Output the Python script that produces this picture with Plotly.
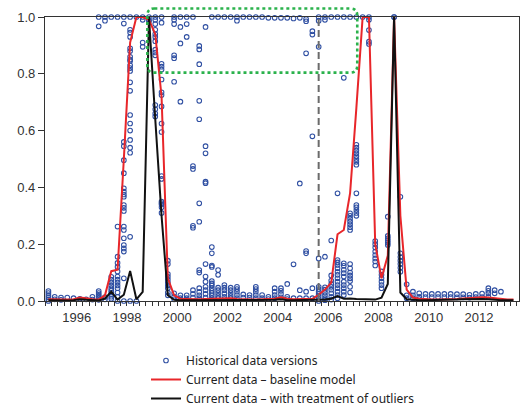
import pandas as pd
import plotly.graph_objects as go

# ---------------- data ----------------
quarters = [str(p) for p in pd.period_range("1994Q4", "2013Q2", freq="Q")]

baseline = [0.006, 0.005, 0.005, 0.005, 0.006, 0.012, 0.010, 0.006, 0.005, 0.02,
            0.105, 0.11, 0.50, 0.91, 1.0, 1.0, 0.99, 0.94, 0.72, 0.08,
            0.02, 0.008, 0.007, 0.006, 0.006, 0.007, 0.008, 0.007, 0.008, 0.010,
            0.007, 0.006, 0.005, 0.005, 0.006, 0.006, 0.008, 0.013, 0.008, 0.006,
            0.006, 0.007, 0.008, 0.022, 0.04, 0.065, 0.235, 0.25, 0.38, 0.68,
            1.0, 1.0, 0.2, 0.08, 0.16, 1.0, 0.3, 0.04, 0.012, 0.008,
            0.006, 0.005, 0.005, 0.005, 0.006, 0.007, 0.009, 0.011, 0.012, 0.013,
            0.012, 0.009, 0.006, 0.005, 0.005]

outliers = [0.003, 0.002, 0.002, 0.002, 0.003, 0.006, 0.004, 0.002, 0.002, 0.008,
            0.033, 0.005, 0.022, 0.106, 0.006, 0.032, 1.0, 0.64, 0.30, 0.02,
            0.004, 0.003, 0.003, 0.003, 0.003, 0.003, 0.004, 0.003, 0.003, 0.004,
            0.003, 0.003, 0.002, 0.002, 0.003, 0.003, 0.004, 0.006, 0.003, 0.003,
            0.003, 0.003, 0.003, 0.004, 0.005, 0.008, 0.017, 0.008, 0.009, 0.007,
            0.006, 0.005, 0.005, 0.012, 0.06, 1.0, 0.03, 0.006, 0.004, 0.003,
            0.003, 0.003, 0.003, 0.003, 0.004, 0.005, 0.006, 0.007, 0.008, 0.007,
            0.006, 0.004, 0.003, 0.003, 0.003]

hist_quarters = ["1994Q4", "1995Q1", "1995Q2", "1995Q3", "1995Q4", "1996Q1", "1996Q2", "1996Q3",
                 "1996Q4", "1997Q1", "1997Q2", "1997Q3", "1997Q4", "1998Q1", "1998Q2", "1998Q3",
                 "1998Q4", "1999Q1", "1999Q2", "1999Q3", "1999Q4", "2000Q1", "2000Q2", "2000Q3",
                 "2000Q4", "2001Q1", "2001Q2", "2001Q3", "2001Q4", "2002Q1", "2002Q2", "2002Q3",
                 "2002Q4", "2003Q1", "2003Q2", "2003Q3", "2003Q4", "2004Q1", "2004Q2", "2004Q3",
                 "2004Q4", "2005Q1", "2005Q2", "2005Q3", "2005Q4", "2006Q1", "2006Q2", "2006Q3",
                 "2006Q4", "2007Q1", "2007Q2", "2007Q3", "2007Q4", "2008Q1", "2008Q2", "2008Q3",
                 "2008Q4", "2009Q1", "2009Q2", "2009Q3", "2009Q4", "2010Q1", "2010Q2", "2010Q3",
                 "2010Q4", "2011Q1", "2011Q2", "2011Q3", "2011Q4", "2012Q1", "2012Q2", "2012Q3",
                 "2012Q4"]

hist_values = [
    [0.035, 0.028, 0.02, 0.013, 0.006, 0.0],
    [0.015, 0.006],
    [0.012, 0.004],
    [0.012],
    [0.01],
    [0.008],
    [0.006],
    [0.015, 0.005],
    [1.0, 0.967, 0.035, 0.028, 0.022, 0.016, 0.01, 0.004],
    [1.0, 0.987, 0.014, 0.006],
    [1.0, 0.085, 0.075, 0.065, 0.055, 0.045, 0.037, 0.03, 0.022, 0.015, 0.008],
    [1.0, 0.262, 0.156, 0.134, 0.12, 0.104, 0.086, 0.075, 0.065, 0.055, 0.045, 0.03, 0.015, 0.0],
    [1.0, 0.977, 0.56, 0.545, 0.496, 0.45, 0.397, 0.385, 0.375, 0.367, 0.338, 0.328, 0.317,
     0.262, 0.25, 0.221, 0.197, 0.185, 0.174, 0.08, 0.0],
    [1.0, 0.955, 0.945, 0.93, 0.89, 0.88, 0.86, 0.85, 0.845, 0.83, 0.82, 0.81, 0.77, 0.74,
     0.655, 0.625, 0.6, 0.567, 0.54, 0.522, 0.226, 0.0],
    [1.0, 0.0],
    [1.0, 0.99, 0.91, 0.895],
    [1.0, 0.99, 0.985],
    [1.0, 0.99, 0.975, 0.955, 0.94, 0.93, 0.915, 0.885, 0.875, 0.865, 0.69, 0.675, 0.66, 0.65],
    [1.0, 0.98, 0.835, 0.825, 0.815, 0.78, 0.735, 0.725, 0.685, 0.625, 0.595, 0.44, 0.43,
     0.35, 0.345, 0.34, 0.33, 0.31],
    [0.142, 0.13, 0.095, 0.085, 0.075, 0.065, 0.055, 0.045, 0.03, 0.02],
    [1.0, 0.99, 0.975, 0.865, 0.855, 0.772, 0.027, 0.015, 0.006],
    [1.0, 0.965, 0.907, 0.702, 0.02, 0.01],
    [1.0, 0.975, 0.93, 0.02, 0.01],
    [1.0, 0.475, 0.465, 0.265, 0.258, 0.038, 0.025, 0.012],
    [0.898, 0.886, 0.834, 0.705, 0.64, 0.344, 0.279, 0.109, 0.1, 0.045, 0.032, 0.02, 0.01],
    [0.965, 0.545, 0.52, 0.42, 0.415, 0.13, 0.086, 0.068, 0.05, 0.038, 0.025, 0.012],
    [1.0, 0.19, 0.168, 0.125, 0.12, 0.07, 0.062, 0.055, 0.045, 0.036, 0.028, 0.02, 0.01],
    [1.0, 0.109, 0.092, 0.047, 0.038, 0.028, 0.018, 0.01],
    [1.0, 0.056, 0.047, 0.038, 0.026, 0.015, 0.007],
    [1.0, 0.047, 0.038, 0.028, 0.018, 0.01],
    [1.0, 0.987, 0.05, 0.042, 0.033, 0.021, 0.01],
    [1.0, 0.023, 0.012],
    [1.0, 0.021, 0.012],
    [1.0, 0.05, 0.042, 0.033, 0.021, 0.01],
    [1.0, 0.021, 0.01],
    [0.997, 0.015, 0.007],
    [0.997, 0.045, 0.033, 0.021, 0.01],
    [0.997, 0.045, 0.036, 0.025, 0.013],
    [0.997, 0.06, 0.015, 0.007],
    [0.995, 0.129, 0.01],
    [0.997, 0.414, 0.038, 0.01],
    [0.993, 0.985, 0.872, 0.176, 0.168, 0.033, 0.01],
    [0.95, 0.938, 0.58, 0.045, 0.01],
    [1.0, 0.987, 0.895, 0.15, 0.05, 0.042, 0.033, 0.025, 0.017, 0.008, 0.0],
    [1.0, 0.99, 0.156, 0.048, 0.04, 0.03, 0.02, 0.01, 0.003],
    [1.0, 0.213, 0.09, 0.072, 0.06, 0.05, 0.04, 0.027, 0.015, 0.005],
    [1.0, 0.379, 0.144, 0.136, 0.127, 0.115, 0.103, 0.092, 0.08, 0.068, 0.056, 0.045, 0.033,
     0.021, 0.01],
    [1.0, 0.786, 0.133, 0.124, 0.11, 0.098, 0.086, 0.068, 0.056, 0.045, 0.033, 0.021],
    [1.0, 0.309, 0.3, 0.29, 0.28, 0.27, 0.26, 0.25, 0.13, 0.115, 0.1, 0.09, 0.08, 0.07,
     0.05, 0.03],
    [1.0, 0.55, 0.54, 0.53, 0.52, 0.51, 0.50, 0.49, 0.48, 0.379, 0.338, 0.33, 0.32, 0.31, 0.3],
    [1.0],
    [1.0, 0.99, 0.954, 0.913, 0.905],
    [0.211, 0.2, 0.188, 0.174, 0.162, 0.15, 0.139, 0.125],
    [0.104, 0.092, 0.08, 0.068, 0.056, 0.045],
    [0.297, 0.229, 0.221, 0.213, 0.205, 0.197],
    [1.0, 1.0],
    [0.367, 0.168, 0.155, 0.142, 0.13, 0.117, 0.103],
    [0.059, 0.02, 0.01],
    [0.033, 0.02, 0.01],
    [0.027, 0.015, 0.007],
    [0.025, 0.014],
    [0.025, 0.014],
    [0.025, 0.014],
    [0.025, 0.014],
    [0.025, 0.014],
    [0.024, 0.013],
    [0.024, 0.013],
    [0.022, 0.012],
    [0.025, 0.014],
    [0.026, 0.014],
    [0.045, 0.036, 0.027, 0.015],
    [0.038, 0.027],
    [0.033],
]

x_tick_years = [1996, 1998, 2000, 2002, 2004, 2006, 2008, 2010, 2012]
y_ticks = [0.0, 0.2, 0.4, 0.6, 0.8, 1.0]
vintage_quarter = "2005Q3"
legend_names = ["Historical data versions",
                "Current data \u2013 baseline model",
                "Current data \u2013 with treatment of outliers"]


def qpos(label):
    """Mid-quarter position in decimal years."""
    return int(label[:4]) + (int(label[-1]) - 1) / 4 + 0.125


x_all = [qpos(q) for q in quarters]
hx, hy = [], []
for q, vals in zip(hist_quarters, hist_values):
    for v in vals:
        hx.append(qpos(q))
        hy.append(v)

X0, X1 = 1994.739, 2013.594

fig = go.Figure()
fig.add_trace(go.Scatter(
    x=hx, y=hy, mode="markers", name=legend_names[0], cliponaxis=False,
    marker=dict(symbol="circle-open", size=4.6, color="#2f4fa2", line=dict(width=1.1))))
fig.add_trace(go.Scatter(
    x=x_all, y=baseline, mode="lines", name=legend_names[1], cliponaxis=False,
    line=dict(color="#e8262a", width=2)))
fig.add_trace(go.Scatter(
    x=x_all, y=outliers, mode="lines", name=legend_names[2], cliponaxis=False,
    line=dict(color="#111111", width=2)))

# vertical dashed line (vintage)
fig.add_shape(type="line", xref="x", yref="y", x0=qpos(vintage_quarter), x1=qpos(vintage_quarter),
              y0=0, y1=1, line=dict(color="#6b6b6b", width=2, dash="7px,4px"))

# green dotted rounded box (paper coordinates)
def xp(year):
    return (year - X0) / (X1 - X0)

L, R, T, B = xp(1998.81), xp(2007.16), 1.03, 0.804
rx, ry = 7 / 474, 7 / 284
path = (f"M {L+rx},{T} L {R-rx},{T} Q {R},{T} {R},{T-ry} L {R},{B+ry} Q {R},{B} {R-rx},{B} "
        f"L {L+rx},{B} Q {L},{B} {L},{B+ry} L {L},{T-ry} Q {L},{T} {L+rx},{T} Z")
fig.add_shape(type="path", xref="paper", yref="paper", path=path,
              line=dict(color="#2bb24c", width=2.6, dash="dot"))

axis_font = dict(family="Liberation Sans, Arial, sans-serif", size=13, color="#333333")
fig.update_xaxes(range=[X0, X1], tickvals=x_tick_years, ticktext=[str(y) for y in x_tick_years],
                 ticks="outside", ticklen=4, tickwidth=1, tickcolor="#333333",
                 showline=True, linecolor="#333333", linewidth=1.2, mirror=True,
                 showgrid=False, zeroline=False, tickfont=axis_font,
                 minor=dict(dtick=0.25, tick0=1996, ticks="outside", ticklen=4,
                            tickcolor="#333333", showgrid=False))
fig.update_yaxes(range=[0, 1], tickvals=y_ticks, tickformat=".1f",
                 ticks="outside", ticklen=6, tickwidth=1, tickcolor="#333333",
                 showline=True, linecolor="#333333", linewidth=1.2, mirror=True,
                 showgrid=False, zeroline=False, tickfont=axis_font)

fig.update_layout(
    width=528, height=408, margin=dict(l=45, r=9, t=17, b=107, autoexpand=False),
    plot_bgcolor="white", paper_bgcolor="white",
    showlegend=True,
    legend=dict(x=(146 - 45) / 474, y=(301 - 346) / 284, xanchor="left", yanchor="top",
                font=dict(family="Noto Sans, sans-serif", size=12, color="#222222"),
                bgcolor="rgba(0,0,0,0)", borderwidth=0, tracegroupgap=0),
)

fig.write_html("out.html")
